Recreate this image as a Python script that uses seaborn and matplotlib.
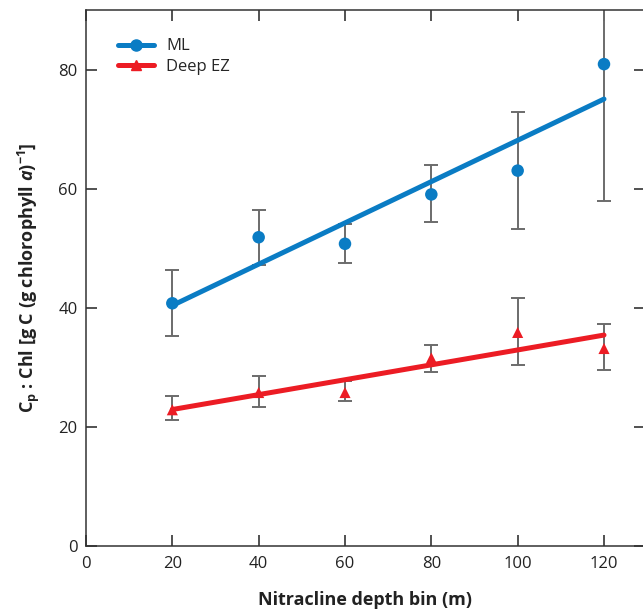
import numpy as np
import pandas as pd
import matplotlib
matplotlib.use("Agg")
import matplotlib.pyplot as plt
from matplotlib.lines import Line2D
import seaborn as sns

# ---- data ----
depth_bins = [20, 40, 60, 80, 100, 120]
ml_values = [40.8, 51.9, 50.8, 59.1, 63.1, 81.0]
ml_err_low = [35.3, 47.2, 47.5, 54.5, 53.3, 58.0]
ml_err_high = [46.4, 56.4, 54.2, 64.0, 73.0, 104.0]
ez_values = [22.9, 25.8, 25.8, 31.6, 35.9, 33.2]
ez_err_low = [21.2, 23.3, 24.4, 29.3, 30.4, 29.6]
ez_err_high = [25.2, 28.6, 27.7, 33.8, 41.7, 37.3]
series_names = ["ML", "Deep EZ"]
x_ticks = [0, 20, 40, 60, 80, 100, 120]
y_ticks = [0, 20, 40, 60, 80]

BLUE = "#0a7cc4"
RED = "#ec1c24"
GREY = "#6b6b6b"

sns.set_theme(style="ticks")
plt.rcParams["font.family"] = ["Open Sans", "DejaVu Sans"]
plt.rcParams["mathtext.fontset"] = "custom"
plt.rcParams["mathtext.rm"] = "Open Sans:bold"
plt.rcParams["mathtext.bf"] = "Open Sans:bold"
plt.rcParams["mathtext.it"] = "Open Sans:italic:bold"

df = pd.DataFrame({
    "depth": depth_bins * 2,
    "value": ml_values + ez_values,
    "lo": ml_err_low + ez_err_low,
    "hi": ml_err_high + ez_err_high,
    "series": [series_names[0]] * 6 + [series_names[1]] * 6,
})

fig = plt.figure(figsize=(6.43, 6.11), dpi=100)
ax = fig.add_axes([86 / 643, 1 - 546 / 611, (645 - 86) / 643, (546 - 10) / 611])

styles = {"ML": (BLUE, "o", 9), "Deep EZ": (RED, "^", 8)}
for name in series_names:
    d = df[df["series"] == name]
    color, marker, ms = styles[name]
    yerr = np.vstack([d["value"] - d["lo"], d["hi"] - d["value"]])
    ax.errorbar(d["depth"], d["value"], yerr=yerr, fmt="none", ecolor=GREY,
                elinewidth=1.4, capsize=5, capthick=1.4, zorder=1)
    sns.regplot(data=d, x="depth", y="value", ax=ax, ci=None, scatter=False,
                truncate=True, line_kws=dict(color=color, lw=3.6, zorder=2))
    sns.scatterplot(data=d, x="depth", y="value", ax=ax, color=color,
                    marker=marker, s=ms ** 2, edgecolor="none", zorder=3)

ax.set_xlim(0, 129.5)
ax.set_ylim(0, 90.1)
ax.set_xticks(x_ticks)
ax.set_yticks(y_ticks)
ax.tick_params(direction="in", length=8, width=1.1, colors="#222222",
               labelsize=12, top=True, right=True, pad=6)
ax.tick_params(axis="x", pad=7)
for sp in ax.spines.values():
    sp.set_color("#333333")
    sp.set_linewidth(1.1)

ax.set_xlabel("Nitracline depth bin (m)", fontsize=13, fontweight="bold",
              labelpad=14, color="#222222")
ax.set_ylabel(r"C$_\mathrm{p}$ : Chl [g C (g chlorophyll $a$)$^{-1}$]",
              fontsize=13, fontweight="bold", labelpad=12, color="#222222")

handles = [
    Line2D([], [], color=BLUE, lw=3.6, marker="o", markersize=8),
    Line2D([], [], color=RED, lw=3.6, marker="^", markersize=7),
]
ax.legend(handles, series_names, loc="upper left", frameon=False, fontsize=12,
          handlelength=2.2, handletextpad=0.7, labelspacing=0.25,
          bbox_to_anchor=(0.03, 0.975))

fig.savefig("out.png", dpi=100)
